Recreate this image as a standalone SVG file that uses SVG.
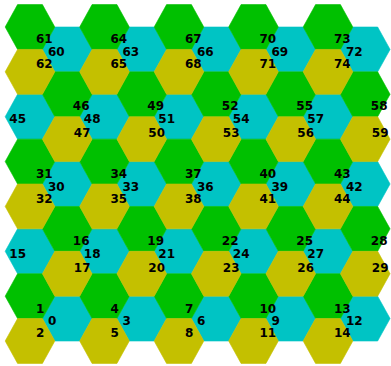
<svg xmlns="http://www.w3.org/2000/svg" width="391" height="366" viewBox="0 0 391 366">
<style>
.c{fill:#00c4c4;stroke:#00c4c4;stroke-width:0.6}
.g{fill:#00c000;stroke:#00c000;stroke-width:0.6}
.y{fill:#c4c000;stroke:#c4c000;stroke-width:0.6}
text{font-family:"DejaVu Sans",sans-serif;font-size:12px;font-weight:bold;fill:#000}
</style>
<defs>
<polygon id="h" points="-24.83,0 -12.42,-22.43 12.42,-22.43 24.83,0 12.42,22.43 -12.42,22.43"/>
</defs>
<rect width="391" height="366" fill="#fff"/>
<g id="cells-cyan">
<g id="n60"><use href="#h" class="c" x="67.25" y="49.43"/><text x="48" y="55.9">60</text></g>
<g id="n63"><use href="#h" class="c" x="141.75" y="49.43"/><text x="122.5" y="55.9">63</text></g>
<g id="n66"><use href="#h" class="c" x="216.25" y="49.43"/><text x="197" y="55.9">66</text></g>
<g id="n69"><use href="#h" class="c" x="290.75" y="49.43"/><text x="271.5" y="55.9">69</text></g>
<g id="n72"><use href="#h" class="c" x="365.25" y="49.43"/><text x="346" y="55.9">72</text></g>
<g id="n45"><use href="#h" class="c" x="30" y="116.72"/><text x="9.3" y="123.4">45</text></g>
<g id="n48"><use href="#h" class="c" x="104.5" y="116.72"/><text x="83.8" y="123.4">48</text></g>
<g id="n51"><use href="#h" class="c" x="179" y="116.72"/><text x="158.3" y="123.4">51</text></g>
<g id="n54"><use href="#h" class="c" x="253.5" y="116.72"/><text x="232.8" y="123.4">54</text></g>
<g id="n57"><use href="#h" class="c" x="328" y="116.72"/><text x="307.3" y="123.4">57</text></g>
<g id="n30"><use href="#h" class="c" x="67.25" y="184.01"/><text x="48" y="190.5">30</text></g>
<g id="n33"><use href="#h" class="c" x="141.75" y="184.01"/><text x="122.5" y="190.5">33</text></g>
<g id="n36"><use href="#h" class="c" x="216.25" y="184.01"/><text x="197" y="190.5">36</text></g>
<g id="n39"><use href="#h" class="c" x="290.75" y="184.01"/><text x="271.5" y="190.5">39</text></g>
<g id="n42"><use href="#h" class="c" x="365.25" y="184.01"/><text x="346" y="190.5">42</text></g>
<g id="n15"><use href="#h" class="c" x="30" y="251.3"/><text x="9.3" y="258">15</text></g>
<g id="n18"><use href="#h" class="c" x="104.5" y="251.3"/><text x="83.8" y="258">18</text></g>
<g id="n21"><use href="#h" class="c" x="179" y="251.3"/><text x="158.3" y="258">21</text></g>
<g id="n24"><use href="#h" class="c" x="253.5" y="251.3"/><text x="232.8" y="258">24</text></g>
<g id="n27"><use href="#h" class="c" x="328" y="251.3"/><text x="307.3" y="258">27</text></g>
<g id="n0"><use href="#h" class="c" x="67.25" y="318.59"/><text x="48" y="325.1">0</text></g>
<g id="n3"><use href="#h" class="c" x="141.75" y="318.59"/><text x="122.5" y="325.1">3</text></g>
<g id="n6"><use href="#h" class="c" x="216.25" y="318.59"/><text x="197" y="325.1">6</text></g>
<g id="n9"><use href="#h" class="c" x="290.75" y="318.59"/><text x="271.5" y="325.1">9</text></g>
<g id="n12"><use href="#h" class="c" x="365.25" y="318.59"/><text x="346" y="325.1">12</text></g>
</g>
<g id="cells-green">
<g id="n61"><use href="#h" class="g" x="30" y="27"/><text x="36" y="43.4">61</text></g>
<g id="n64"><use href="#h" class="g" x="104.5" y="27"/><text x="110.5" y="43.4">64</text></g>
<g id="n67"><use href="#h" class="g" x="179" y="27"/><text x="185" y="43.4">67</text></g>
<g id="n70"><use href="#h" class="g" x="253.5" y="27"/><text x="259.5" y="43.4">70</text></g>
<g id="n73"><use href="#h" class="g" x="328" y="27"/><text x="334" y="43.4">73</text></g>
<g id="n46"><use href="#h" class="g" x="67.25" y="94.29"/><text x="72.8" y="110.2">46</text></g>
<g id="n49"><use href="#h" class="g" x="141.75" y="94.29"/><text x="147.3" y="110.2">49</text></g>
<g id="n52"><use href="#h" class="g" x="216.25" y="94.29"/><text x="221.8" y="110.2">52</text></g>
<g id="n55"><use href="#h" class="g" x="290.75" y="94.29"/><text x="296.3" y="110.2">55</text></g>
<g id="n58"><use href="#h" class="g" x="365.25" y="94.29"/><text x="370.8" y="110.2">58</text></g>
<g id="n31"><use href="#h" class="g" x="30" y="161.58"/><text x="36" y="178">31</text></g>
<g id="n34"><use href="#h" class="g" x="104.5" y="161.58"/><text x="110.5" y="178">34</text></g>
<g id="n37"><use href="#h" class="g" x="179" y="161.58"/><text x="185" y="178">37</text></g>
<g id="n40"><use href="#h" class="g" x="253.5" y="161.58"/><text x="259.5" y="178">40</text></g>
<g id="n43"><use href="#h" class="g" x="328" y="161.58"/><text x="334" y="178">43</text></g>
<g id="n16"><use href="#h" class="g" x="67.25" y="228.87"/><text x="72.8" y="244.8">16</text></g>
<g id="n19"><use href="#h" class="g" x="141.75" y="228.87"/><text x="147.3" y="244.8">19</text></g>
<g id="n22"><use href="#h" class="g" x="216.25" y="228.87"/><text x="221.8" y="244.8">22</text></g>
<g id="n25"><use href="#h" class="g" x="290.75" y="228.87"/><text x="296.3" y="244.8">25</text></g>
<g id="n28"><use href="#h" class="g" x="365.25" y="228.87"/><text x="370.8" y="244.8">28</text></g>
<g id="n1"><use href="#h" class="g" x="30" y="296.16"/><text x="36" y="312.6">1</text></g>
<g id="n4"><use href="#h" class="g" x="104.5" y="296.16"/><text x="110.5" y="312.6">4</text></g>
<g id="n7"><use href="#h" class="g" x="179" y="296.16"/><text x="185" y="312.6">7</text></g>
<g id="n10"><use href="#h" class="g" x="253.5" y="296.16"/><text x="259.5" y="312.6">10</text></g>
<g id="n13"><use href="#h" class="g" x="328" y="296.16"/><text x="334" y="312.6">13</text></g>
</g>
<g id="cells-yellow">
<g id="n62"><use href="#h" class="y" x="30" y="71.86"/><text x="36" y="68.1">62</text></g>
<g id="n65"><use href="#h" class="y" x="104.5" y="71.86"/><text x="110.5" y="68.1">65</text></g>
<g id="n68"><use href="#h" class="y" x="179" y="71.86"/><text x="185" y="68.1">68</text></g>
<g id="n71"><use href="#h" class="y" x="253.5" y="71.86"/><text x="259.5" y="68.1">71</text></g>
<g id="n74"><use href="#h" class="y" x="328" y="71.86"/><text x="334" y="68.1">74</text></g>
<g id="n47"><use href="#h" class="y" x="67.25" y="139.15"/><text x="73.8" y="137">47</text></g>
<g id="n50"><use href="#h" class="y" x="141.75" y="139.15"/><text x="148.3" y="137">50</text></g>
<g id="n53"><use href="#h" class="y" x="216.25" y="139.15"/><text x="222.8" y="137">53</text></g>
<g id="n56"><use href="#h" class="y" x="290.75" y="139.15"/><text x="297.3" y="137">56</text></g>
<g id="n59"><use href="#h" class="y" x="365.25" y="139.15"/><text x="371.8" y="137">59</text></g>
<g id="n32"><use href="#h" class="y" x="30" y="206.44"/><text x="36" y="202.7">32</text></g>
<g id="n35"><use href="#h" class="y" x="104.5" y="206.44"/><text x="110.5" y="202.7">35</text></g>
<g id="n38"><use href="#h" class="y" x="179" y="206.44"/><text x="185" y="202.7">38</text></g>
<g id="n41"><use href="#h" class="y" x="253.5" y="206.44"/><text x="259.5" y="202.7">41</text></g>
<g id="n44"><use href="#h" class="y" x="328" y="206.44"/><text x="334" y="202.7">44</text></g>
<g id="n17"><use href="#h" class="y" x="67.25" y="273.73"/><text x="73.8" y="271.6">17</text></g>
<g id="n20"><use href="#h" class="y" x="141.75" y="273.73"/><text x="148.3" y="271.6">20</text></g>
<g id="n23"><use href="#h" class="y" x="216.25" y="273.73"/><text x="222.8" y="271.6">23</text></g>
<g id="n26"><use href="#h" class="y" x="290.75" y="273.73"/><text x="297.3" y="271.6">26</text></g>
<g id="n29"><use href="#h" class="y" x="365.25" y="273.73"/><text x="371.8" y="271.6">29</text></g>
<g id="n2"><use href="#h" class="y" x="30" y="341.02"/><text x="36" y="337.3">2</text></g>
<g id="n5"><use href="#h" class="y" x="104.5" y="341.02"/><text x="110.5" y="337.3">5</text></g>
<g id="n8"><use href="#h" class="y" x="179" y="341.02"/><text x="185" y="337.3">8</text></g>
<g id="n11"><use href="#h" class="y" x="253.5" y="341.02"/><text x="259.5" y="337.3">11</text></g>
<g id="n14"><use href="#h" class="y" x="328" y="341.02"/><text x="334" y="337.3">14</text></g>
</g>
<g id="connectors"/>
</svg>
